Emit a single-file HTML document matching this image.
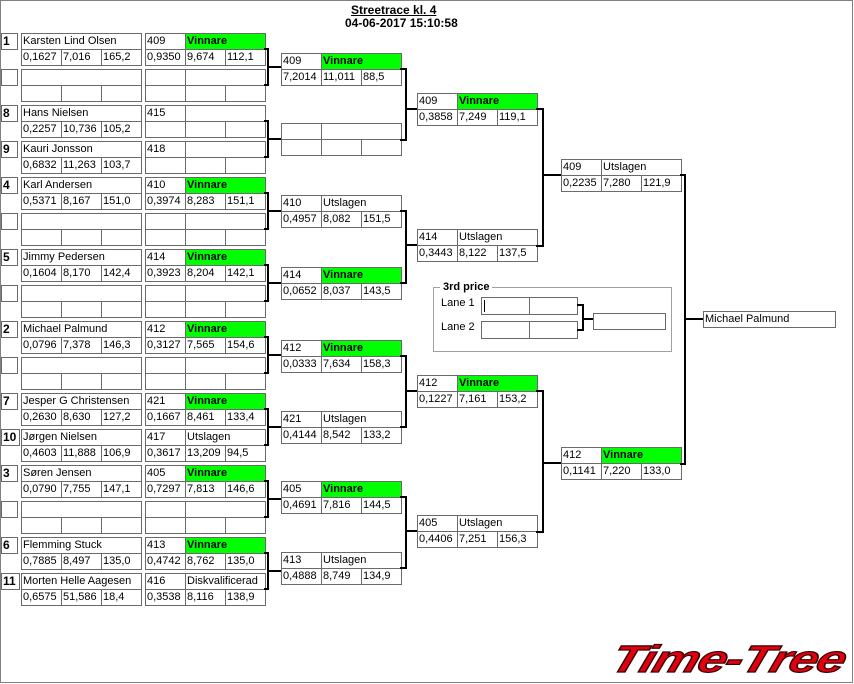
<!DOCTYPE html>
<html><head><meta charset="utf-8">
<style>
*{margin:0;padding:0}
body{width:854px;height:684px;background:#fff;position:relative;overflow:hidden;font-family:"Liberation Sans",Arial,sans-serif;font-size:11px;color:#000}
.frame{position:absolute;left:0;top:0;width:853px;height:683px;border:1px solid #808080;box-sizing:border-box}
.g{position:absolute}
.b{position:absolute;border:1px solid #6a6a6a;height:17px;box-sizing:border-box;padding-left:1px;line-height:15px;white-space:nowrap;overflow:hidden;background:#fff}
.w1{width:41px}.w2{width:81px}.w3{width:121px}
.v{background:#00ff00;font-weight:bold}
.k0{left:0;top:0}.k1{left:40px;top:0}.m0{left:0;top:16px}.m1{left:40px;top:16px}.m2{left:80px;top:16px}
.nb{left:1px;top:0;width:17px;font-weight:bold;font-size:12px}
.nm{left:21px;top:0;width:121px}
.d0{left:21px;top:16px}.d1{left:61px;top:16px}.d2{left:101px;top:16px}
.br{position:absolute;border:2px solid #000;border-left:none;box-sizing:border-box}
.h{position:absolute;height:2px;background:#000}
</style></head><body>
<div class="frame"></div>
<div style="position:absolute;left:351px;top:3px;font-weight:bold;font-size:12px;text-decoration:underline">Streetrace kl. 4</div>
<div style="position:absolute;left:345px;top:16px;font-weight:bold;font-size:12px">04-06-2017 15:10:58</div>

<!-- Round 1 -->
<div class="g" style="left:0;top:33px"><div class="b nb">1</div><div class="b nm">Karsten Lind Olsen</div><div class="b w1 d0">0,1627</div><div class="b w1 d1">7,016</div><div class="b w1 d2">165,2</div>
<div class="g" style="left:145px;top:0"><div class="b w1 k0">409</div><div class="b w2 k1 v">Vinnare</div><div class="b w1 m0">0,9350</div><div class="b w1 m1">9,674</div><div class="b w1 m2">112,1</div></div></div>
<div class="g" style="left:0;top:69px"><div class="b nb"></div><div class="b nm"></div><div class="b w1 d0"></div><div class="b w1 d1"></div><div class="b w1 d2"></div>
<div class="g" style="left:145px;top:0"><div class="b w1 k0"></div><div class="b w2 k1"></div><div class="b w1 m0"></div><div class="b w1 m1"></div><div class="b w1 m2"></div></div></div>
<div class="g" style="left:0;top:105px"><div class="b nb">8</div><div class="b nm">Hans Nielsen</div><div class="b w1 d0">0,2257</div><div class="b w1 d1">10,736</div><div class="b w1 d2">105,2</div>
<div class="g" style="left:145px;top:0"><div class="b w1 k0">415</div><div class="b w2 k1"></div><div class="b w1 m0"></div><div class="b w1 m1"></div><div class="b w1 m2"></div></div></div>
<div class="g" style="left:0;top:141px"><div class="b nb">9</div><div class="b nm">Kauri Jonsson</div><div class="b w1 d0">0,6832</div><div class="b w1 d1">11,263</div><div class="b w1 d2">103,7</div>
<div class="g" style="left:145px;top:0"><div class="b w1 k0">418</div><div class="b w2 k1"></div><div class="b w1 m0"></div><div class="b w1 m1"></div><div class="b w1 m2"></div></div></div>
<div class="g" style="left:0;top:177px"><div class="b nb">4</div><div class="b nm">Karl Andersen</div><div class="b w1 d0">0,5371</div><div class="b w1 d1">8,167</div><div class="b w1 d2">151,0</div>
<div class="g" style="left:145px;top:0"><div class="b w1 k0">410</div><div class="b w2 k1 v">Vinnare</div><div class="b w1 m0">0,3974</div><div class="b w1 m1">8,283</div><div class="b w1 m2">151,1</div></div></div>
<div class="g" style="left:0;top:213px"><div class="b nb"></div><div class="b nm"></div><div class="b w1 d0"></div><div class="b w1 d1"></div><div class="b w1 d2"></div>
<div class="g" style="left:145px;top:0"><div class="b w1 k0"></div><div class="b w2 k1"></div><div class="b w1 m0"></div><div class="b w1 m1"></div><div class="b w1 m2"></div></div></div>
<div class="g" style="left:0;top:249px"><div class="b nb">5</div><div class="b nm">Jimmy Pedersen</div><div class="b w1 d0">0,1604</div><div class="b w1 d1">8,170</div><div class="b w1 d2">142,4</div>
<div class="g" style="left:145px;top:0"><div class="b w1 k0">414</div><div class="b w2 k1 v">Vinnare</div><div class="b w1 m0">0,3923</div><div class="b w1 m1">8,204</div><div class="b w1 m2">142,1</div></div></div>
<div class="g" style="left:0;top:285px"><div class="b nb"></div><div class="b nm"></div><div class="b w1 d0"></div><div class="b w1 d1"></div><div class="b w1 d2"></div>
<div class="g" style="left:145px;top:0"><div class="b w1 k0"></div><div class="b w2 k1"></div><div class="b w1 m0"></div><div class="b w1 m1"></div><div class="b w1 m2"></div></div></div>
<div class="g" style="left:0;top:321px"><div class="b nb">2</div><div class="b nm">Michael Palmund</div><div class="b w1 d0">0,0796</div><div class="b w1 d1">7,378</div><div class="b w1 d2">146,3</div>
<div class="g" style="left:145px;top:0"><div class="b w1 k0">412</div><div class="b w2 k1 v">Vinnare</div><div class="b w1 m0">0,3127</div><div class="b w1 m1">7,565</div><div class="b w1 m2">154,6</div></div></div>
<div class="g" style="left:0;top:357px"><div class="b nb"></div><div class="b nm"></div><div class="b w1 d0"></div><div class="b w1 d1"></div><div class="b w1 d2"></div>
<div class="g" style="left:145px;top:0"><div class="b w1 k0"></div><div class="b w2 k1"></div><div class="b w1 m0"></div><div class="b w1 m1"></div><div class="b w1 m2"></div></div></div>
<div class="g" style="left:0;top:393px"><div class="b nb">7</div><div class="b nm">Jesper G Christensen</div><div class="b w1 d0">0,2630</div><div class="b w1 d1">8,630</div><div class="b w1 d2">127,2</div>
<div class="g" style="left:145px;top:0"><div class="b w1 k0">421</div><div class="b w2 k1 v">Vinnare</div><div class="b w1 m0">0,1667</div><div class="b w1 m1">8,461</div><div class="b w1 m2">133,4</div></div></div>
<div class="g" style="left:0;top:429px"><div class="b nb" style="width:19px">10</div><div class="b nm">Jørgen Nielsen</div><div class="b w1 d0">0,4603</div><div class="b w1 d1">11,888</div><div class="b w1 d2">106,9</div>
<div class="g" style="left:145px;top:0"><div class="b w1 k0">417</div><div class="b w2 k1">Utslagen</div><div class="b w1 m0">0,3617</div><div class="b w1 m1">13,209</div><div class="b w1 m2">94,5</div></div></div>
<div class="g" style="left:0;top:465px"><div class="b nb">3</div><div class="b nm">Søren Jensen</div><div class="b w1 d0">0,0790</div><div class="b w1 d1">7,755</div><div class="b w1 d2">147,1</div>
<div class="g" style="left:145px;top:0"><div class="b w1 k0">405</div><div class="b w2 k1 v">Vinnare</div><div class="b w1 m0">0,7297</div><div class="b w1 m1">7,813</div><div class="b w1 m2">146,6</div></div></div>
<div class="g" style="left:0;top:501px"><div class="b nb"></div><div class="b nm"></div><div class="b w1 d0"></div><div class="b w1 d1"></div><div class="b w1 d2"></div>
<div class="g" style="left:145px;top:0"><div class="b w1 k0"></div><div class="b w2 k1"></div><div class="b w1 m0"></div><div class="b w1 m1"></div><div class="b w1 m2"></div></div></div>
<div class="g" style="left:0;top:537px"><div class="b nb">6</div><div class="b nm">Flemming Stuck</div><div class="b w1 d0">0,7885</div><div class="b w1 d1">8,497</div><div class="b w1 d2">135,0</div>
<div class="g" style="left:145px;top:0"><div class="b w1 k0">413</div><div class="b w2 k1 v">Vinnare</div><div class="b w1 m0">0,4742</div><div class="b w1 m1">8,762</div><div class="b w1 m2">135,0</div></div></div>
<div class="g" style="left:0;top:573px"><div class="b nb" style="width:19px">11</div><div class="b nm">Morten Helle Aagesen</div><div class="b w1 d0">0,6575</div><div class="b w1 d1">51,586</div><div class="b w1 d2">18,4</div>
<div class="g" style="left:145px;top:0"><div class="b w1 k0">416</div><div class="b w2 k1">Diskvalificerad</div><div class="b w1 m0">0,3538</div><div class="b w1 m1">8,116</div><div class="b w1 m2">138,9</div></div></div>

<!-- Round 1 brackets -->
<div class="br" style="left:264px;top:48px;width:5px;height:38px"></div><div class="h" style="left:268px;top:66px;width:13px"></div>
<div class="br" style="left:264px;top:120px;width:5px;height:38px"></div><div class="h" style="left:268px;top:138px;width:13px"></div>
<div class="br" style="left:264px;top:192px;width:5px;height:38px"></div><div class="h" style="left:268px;top:210px;width:13px"></div>
<div class="br" style="left:264px;top:264px;width:5px;height:38px"></div><div class="h" style="left:268px;top:282px;width:13px"></div>
<div class="br" style="left:264px;top:336px;width:5px;height:38px"></div><div class="h" style="left:268px;top:354px;width:13px"></div>
<div class="br" style="left:264px;top:408px;width:5px;height:38px"></div><div class="h" style="left:268px;top:426px;width:13px"></div>
<div class="br" style="left:264px;top:480px;width:5px;height:38px"></div><div class="h" style="left:268px;top:498px;width:13px"></div>
<div class="br" style="left:264px;top:552px;width:5px;height:38px"></div><div class="h" style="left:268px;top:570px;width:13px"></div>

<!-- Round 2 -->
<div class="g" style="left:281px;top:53px"><div class="b w1 k0">409</div><div class="b w2 k1 v">Vinnare</div><div class="b w1 m0">7,2014</div><div class="b w1 m1">11,011</div><div class="b w1 m2">88,5</div></div>
<div class="g" style="left:281px;top:123px"><div class="b w1 k0"></div><div class="b w2 k1"></div><div class="b w1 m0"></div><div class="b w1 m1"></div><div class="b w1 m2"></div></div>
<div class="g" style="left:281px;top:195px"><div class="b w1 k0">410</div><div class="b w2 k1">Utslagen</div><div class="b w1 m0">0,4957</div><div class="b w1 m1">8,082</div><div class="b w1 m2">151,5</div></div>
<div class="g" style="left:281px;top:267px"><div class="b w1 k0">414</div><div class="b w2 k1 v">Vinnare</div><div class="b w1 m0">0,0652</div><div class="b w1 m1">8,037</div><div class="b w1 m2">143,5</div></div>
<div class="g" style="left:281px;top:340px"><div class="b w1 k0">412</div><div class="b w2 k1 v">Vinnare</div><div class="b w1 m0">0,0333</div><div class="b w1 m1">7,634</div><div class="b w1 m2">158,3</div></div>
<div class="g" style="left:281px;top:411px"><div class="b w1 k0">421</div><div class="b w2 k1">Utslagen</div><div class="b w1 m0">0,4144</div><div class="b w1 m1">8,542</div><div class="b w1 m2">133,2</div></div>
<div class="g" style="left:281px;top:481px"><div class="b w1 k0">405</div><div class="b w2 k1 v">Vinnare</div><div class="b w1 m0">0,4691</div><div class="b w1 m1">7,816</div><div class="b w1 m2">144,5</div></div>
<div class="g" style="left:281px;top:552px"><div class="b w1 k0">413</div><div class="b w2 k1">Utslagen</div><div class="b w1 m0">0,4888</div><div class="b w1 m1">8,749</div><div class="b w1 m2">134,9</div></div>

<!-- Round 2 brackets -->
<div class="br" style="left:400px;top:68px;width:7px;height:73px"></div><div class="h" style="left:407px;top:108px;width:10px"></div>
<div class="br" style="left:400px;top:210px;width:7px;height:74px"></div><div class="h" style="left:407px;top:244px;width:10px"></div>
<div class="br" style="left:400px;top:355px;width:7px;height:73px"></div><div class="h" style="left:407px;top:390px;width:10px"></div>
<div class="br" style="left:400px;top:496px;width:7px;height:73px"></div><div class="h" style="left:407px;top:530px;width:10px"></div>

<!-- Round 3 -->
<div class="g" style="left:417px;top:93px"><div class="b w1 k0">409</div><div class="b w2 k1 v">Vinnare</div><div class="b w1 m0">0,3858</div><div class="b w1 m1">7,249</div><div class="b w1 m2">119,1</div></div>
<div class="g" style="left:417px;top:229px"><div class="b w1 k0">414</div><div class="b w2 k1">Utslagen</div><div class="b w1 m0">0,3443</div><div class="b w1 m1">8,122</div><div class="b w1 m2">137,5</div></div>
<div class="g" style="left:417px;top:375px"><div class="b w1 k0">412</div><div class="b w2 k1 v">Vinnare</div><div class="b w1 m0">0,1227</div><div class="b w1 m1">7,161</div><div class="b w1 m2">153,2</div></div>
<div class="g" style="left:417px;top:515px"><div class="b w1 k0">405</div><div class="b w2 k1">Utslagen</div><div class="b w1 m0">0,4406</div><div class="b w1 m1">7,251</div><div class="b w1 m2">156,3</div></div>

<div class="br" style="left:536px;top:108px;width:8px;height:139px"></div><div class="h" style="left:544px;top:174px;width:17px"></div>
<div class="br" style="left:536px;top:390px;width:8px;height:143px"></div><div class="h" style="left:544px;top:462px;width:17px"></div>

<!-- Round 4 -->
<div class="g" style="left:561px;top:159px"><div class="b w1 k0">409</div><div class="b w2 k1">Utslagen</div><div class="b w1 m0">0,2235</div><div class="b w1 m1">7,280</div><div class="b w1 m2">121,9</div></div>
<div class="g" style="left:561px;top:447px"><div class="b w1 k0">412</div><div class="b w2 k1 v">Vinnare</div><div class="b w1 m0">0,1141</div><div class="b w1 m1">7,220</div><div class="b w1 m2">133,0</div></div>

<div class="br" style="left:680px;top:174px;width:6px;height:291px"></div><div class="h" style="left:686px;top:318px;width:17px"></div>
<div class="b" style="left:703px;top:311px;width:133px">Michael Palmund</div>

<!-- 3rd price -->
<div style="position:absolute;left:433px;top:287px;width:239px;height:65px;border:1px solid #a0a0a0;box-sizing:border-box"></div>
<div style="position:absolute;left:440px;top:281px;padding:0 3px;background:#fff;font-weight:bold">3rd price</div>
<div style="position:absolute;left:441px;top:297px">Lane 1</div>
<div style="position:absolute;left:441px;top:321px">Lane 2</div>
<div class="b" style="left:481px;top:297px;width:49px;height:18px"></div><div class="b" style="left:529px;top:297px;width:49px;height:18px"></div>
<div style="position:absolute;left:484px;top:300px;width:1px;height:12px;background:#000"></div>
<div class="b" style="left:481px;top:321px;width:49px;height:18px"></div><div class="b" style="left:529px;top:321px;width:49px;height:18px"></div>
<div class="br" style="left:577px;top:304px;width:7px;height:27px"></div><div class="h" style="left:584px;top:318px;width:9px"></div>
<div class="b" style="left:593px;top:313px;width:73px"></div>

<!-- Logo -->
<div style="position:absolute;left:612px;top:638px;height:44px;font-family:'Liberation Sans',sans-serif;font-weight:bold;font-style:italic;font-size:38px;line-height:44px;color:#e00010;-webkit-text-stroke:1.2px #300;transform:skewX(-18deg) scaleX(1.36);transform-origin:left center;letter-spacing:-1px;white-space:nowrap">Time-Tree</div>
</body></html>
